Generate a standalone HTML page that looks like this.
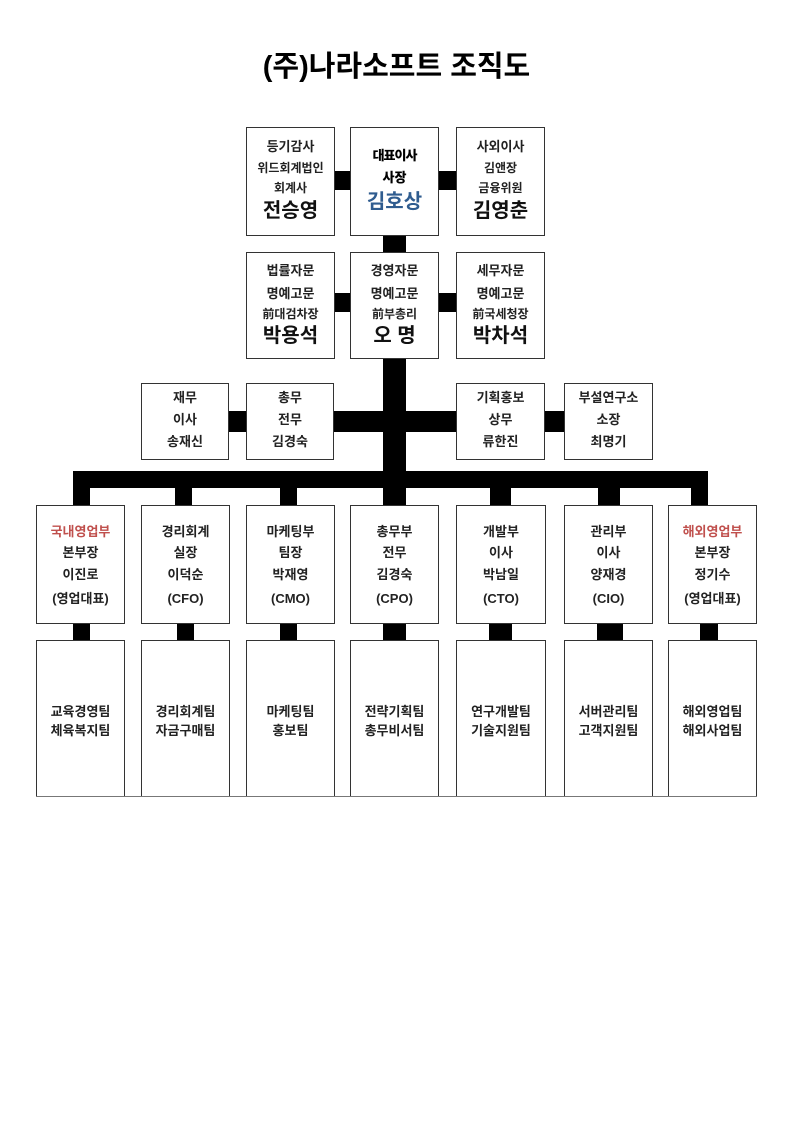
<!DOCTYPE html>
<html><head><meta charset="utf-8"><style>
body{margin:0;width:793px;height:1121px;background:#fff;position:relative;font-family:"Liberation Sans","Noto Sans CJK KR","NanumGothic",sans-serif;color:#111;overflow:hidden}
.b{position:absolute;border:1px solid #333;background:#fff;box-sizing:border-box}
.k{position:absolute;background:#000}
.t{position:absolute;left:0;right:0;text-align:center;white-space:nowrap;font-size:13px;line-height:16px;font-weight:bold;color:#222}
.n{font-size:20px;line-height:24px;font-weight:bold;color:#111}
.s{font-size:12px}
.r{color:#c0504d}
</style></head><body>
<div style="position:absolute;left:0;right:0;top:49px;text-align:center;font-size:29px;font-weight:bold;line-height:36px;color:#000">(주)나라소프트 조직도</div>

<div class="k" style="left:334px;top:171px;width:16px;height:19px"></div>
<div class="k" style="left:438px;top:171px;width:18px;height:19px"></div>
<div class="k" style="left:383px;top:235px;width:23px;height:17px"></div>
<div class="k" style="left:334px;top:293px;width:16px;height:19px"></div>
<div class="k" style="left:438px;top:293px;width:18px;height:19px"></div>
<div class="k" style="left:383px;top:358px;width:23px;height:130px"></div>
<div class="k" style="left:229px;top:411px;width:17px;height:21px"></div>
<div class="k" style="left:333px;top:411px;width:123px;height:21px"></div>
<div class="k" style="left:544px;top:411px;width:20px;height:21px"></div>
<div class="k" style="left:73px;top:471px;width:635px;height:17px"></div>
<div class="k" style="left:73px;top:488px;width:17px;height:17px"></div>
<div class="k" style="left:175px;top:488px;width:17px;height:17px"></div>
<div class="k" style="left:280px;top:488px;width:17px;height:17px"></div>
<div class="k" style="left:383px;top:488px;width:23px;height:17px"></div>
<div class="k" style="left:490px;top:488px;width:21px;height:17px"></div>
<div class="k" style="left:598px;top:488px;width:22px;height:17px"></div>
<div class="k" style="left:691px;top:488px;width:17px;height:17px"></div>
<div class="k" style="left:73px;top:623px;width:17px;height:17px"></div>
<div class="k" style="left:177px;top:623px;width:17px;height:17px"></div>
<div class="k" style="left:280px;top:623px;width:17px;height:17px"></div>
<div class="k" style="left:383px;top:623px;width:23px;height:17px"></div>
<div class="k" style="left:489px;top:623px;width:23px;height:17px"></div>
<div class="k" style="left:597px;top:623px;width:26px;height:17px"></div>
<div class="k" style="left:700px;top:623px;width:18px;height:17px"></div>

<div class="b" style="left:246px;top:127px;width:89px;height:109px">
<div class="t" style="top:11px">등기감사</div><div class="t s" style="top:32px">위드회계법인</div><div class="t s" style="top:52px">회계사</div><div class="t n" style="top:71px">전승영</div></div>
<div class="b" style="left:350px;top:127px;width:89px;height:109px">
<div class="t" style="top:20px;font-weight:900;letter-spacing:-1px;color:#000">대표이사</div><div class="t" style="top:42px;font-weight:900;color:#000">사장</div><div class="t n" style="top:62px;color:#2f5c8f">김호상</div></div>
<div class="b" style="left:456px;top:127px;width:89px;height:109px">
<div class="t" style="top:11px">사외이사</div><div class="t s" style="top:32px">김앤장</div><div class="t s" style="top:52px">금융위원</div><div class="t n" style="top:71px">김영춘</div></div>
<div class="b" style="left:246px;top:252px;width:89px;height:107px">
<div class="t" style="top:10px">법률자문</div><div class="t" style="top:33px">명예고문</div><div class="t s" style="top:53px">前대검차장</div><div class="t n" style="top:71px">박용석</div></div>
<div class="b" style="left:350px;top:252px;width:89px;height:107px">
<div class="t" style="top:10px">경영자문</div><div class="t" style="top:33px">명예고문</div><div class="t s" style="top:53px">前부총리</div><div class="t n" style="top:71px">오 명</div></div>
<div class="b" style="left:456px;top:252px;width:89px;height:107px">
<div class="t" style="top:10px">세무자문</div><div class="t" style="top:33px">명예고문</div><div class="t s" style="top:53px">前국세청장</div><div class="t n" style="top:71px">박차석</div></div>
<div class="b" style="left:141px;top:383px;width:88px;height:77px">
<div class="t" style="top:6px">재무</div><div class="t" style="top:28px">이사</div><div class="t" style="top:50px">송재신</div></div>
<div class="b" style="left:246px;top:383px;width:88px;height:77px">
<div class="t" style="top:6px">총무</div><div class="t" style="top:28px">전무</div><div class="t" style="top:50px">김경숙</div></div>
<div class="b" style="left:456px;top:383px;width:89px;height:77px">
<div class="t" style="top:6px">기획홍보</div><div class="t" style="top:28px">상무</div><div class="t" style="top:50px">류한진</div></div>
<div class="b" style="left:564px;top:383px;width:89px;height:77px">
<div class="t" style="top:6px">부설연구소</div><div class="t" style="top:28px">소장</div><div class="t" style="top:50px">최명기</div></div>

<div class="b" style="left:36px;top:505px;width:89px;height:119px"><div class="t r" style="top:18px">국내영업부</div><div class="t" style="top:39px">본부장</div><div class="t" style="top:61px">이진로</div><div class="t" style="top:85px">(영업대표)</div></div>
<div class="b" style="left:141px;top:505px;width:89px;height:119px"><div class="t" style="top:18px">경리회계</div><div class="t" style="top:39px">실장</div><div class="t" style="top:61px">이덕순</div><div class="t" style="top:85px">(CFO)</div></div>
<div class="b" style="left:246px;top:505px;width:89px;height:119px"><div class="t" style="top:18px">마케팅부</div><div class="t" style="top:39px">팀장</div><div class="t" style="top:61px">박재영</div><div class="t" style="top:85px">(CMO)</div></div>
<div class="b" style="left:350px;top:505px;width:89px;height:119px"><div class="t" style="top:18px">총무부</div><div class="t" style="top:39px">전무</div><div class="t" style="top:61px">김경숙</div><div class="t" style="top:85px">(CPO)</div></div>
<div class="b" style="left:456px;top:505px;width:90px;height:119px"><div class="t" style="top:18px">개발부</div><div class="t" style="top:39px">이사</div><div class="t" style="top:61px">박남일</div><div class="t" style="top:85px">(CTO)</div></div>
<div class="b" style="left:564px;top:505px;width:89px;height:119px"><div class="t" style="top:18px">관리부</div><div class="t" style="top:39px">이사</div><div class="t" style="top:61px">양재경</div><div class="t" style="top:85px">(CIO)</div></div>
<div class="b" style="left:668px;top:505px;width:89px;height:119px"><div class="t r" style="top:18px">해외영업부</div><div class="t" style="top:39px">본부장</div><div class="t" style="top:61px">정기수</div><div class="t" style="top:85px">(영업대표)</div></div>

<div class="b" style="left:36px;top:640px;width:89px;height:157px"><div class="t" style="top:63px">교육경영팀</div><div class="t" style="top:82px">체육복지팀</div></div>
<div class="b" style="left:141px;top:640px;width:89px;height:157px"><div class="t" style="top:63px">경리회계팀</div><div class="t" style="top:82px">자금구매팀</div></div>
<div class="b" style="left:246px;top:640px;width:89px;height:157px"><div class="t" style="top:63px">마케팅팀</div><div class="t" style="top:82px">홍보팀</div></div>
<div class="b" style="left:350px;top:640px;width:89px;height:157px"><div class="t" style="top:63px">전략기획팀</div><div class="t" style="top:82px">총무비서팀</div></div>
<div class="b" style="left:456px;top:640px;width:90px;height:157px"><div class="t" style="top:63px">연구개발팀</div><div class="t" style="top:82px">기술지원팀</div></div>
<div class="b" style="left:564px;top:640px;width:89px;height:157px"><div class="t" style="top:63px">서버관리팀</div><div class="t" style="top:82px">고객지원팀</div></div>
<div class="b" style="left:668px;top:640px;width:89px;height:157px"><div class="t" style="top:63px">해외영업팀</div><div class="t" style="top:82px">해외사업팀</div></div>
<div style="position:absolute;left:36px;top:796px;width:721px;height:1px;background:#777"></div>
</body></html>
